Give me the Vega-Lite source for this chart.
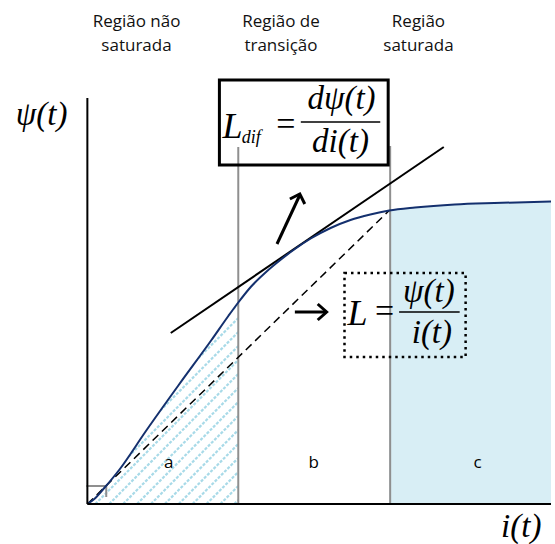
{
  "$schema": "https://vega.github.io/schema/vega-lite/v6.json",
  "width": 555,
  "height": 544,
  "autosize": {"type": "fit", "contains": "padding"},
  "padding": 0,
  "background": "white",
  "config": {"view": {"stroke": null}},
  "encoding": {
    "x": {"field": "i", "type": "quantitative", "scale": {"domain": [-1.76, 9.34], "nice": false, "zero": false}, "axis": null},
    "y": {"field": "psi", "type": "quantitative", "scale": {"domain": [-0.8, 10.08], "nice": false, "zero": false}, "axis": null}
  },
  "layer": [
    {
      "description": "saturated region c, shaded under the curve",
      "data": {"values": [
        {"i": 6.08, "psi": 5.87}, {"i": 6.6, "psi": 5.93}, {"i": 7.4, "psi": 5.99},
        {"i": 8.2, "psi": 6.02}, {"i": 9.34, "psi": 6.05}
      ]},
      "mark": {"type": "area", "interpolate": "monotone", "color": "#d8eef5"},
      "encoding": {"y2": {"datum": 0}}
    },
    {
      "description": "hatching of the unsaturated region a",
      "data": {"values": [
        {"i": 2.96, "psi": 0, "i2": 3.04, "psi2": 0.08},
        {"i": 2.68, "psi": 0, "i2": 3.04, "psi2": 0.36},
        {"i": 2.40, "psi": 0, "i2": 3.04, "psi2": 0.64},
        {"i": 2.12, "psi": 0, "i2": 3.04, "psi2": 0.92},
        {"i": 1.84, "psi": 0, "i2": 3.04, "psi2": 1.2},
        {"i": 1.56, "psi": 0, "i2": 3.04, "psi2": 1.48},
        {"i": 1.28, "psi": 0, "i2": 3.04, "psi2": 1.76},
        {"i": 1.00, "psi": 0, "i2": 3.04, "psi2": 2.04},
        {"i": 0.72, "psi": 0, "i2": 3.04, "psi2": 2.32},
        {"i": 0.44, "psi": 0, "i2": 3.04, "psi2": 2.6},
        {"i": 0.16, "psi": 0, "i2": 3.04, "psi2": 2.88},
        {"i": 0, "psi": 0.12, "i2": 3.04, "psi2": 3.16},
        {"i": 0, "psi": 0.40, "i2": 3.04, "psi2": 3.44},
        {"i": 0, "psi": 0.68, "i2": 3.04, "psi2": 3.72},
        {"i": 0, "psi": 0.96, "i2": 3.04, "psi2": 4.0},
        {"i": 0, "psi": 1.24, "i2": 2.86, "psi2": 4.1},
        {"i": 0, "psi": 1.52, "i2": 2.58, "psi2": 4.1},
        {"i": 0, "psi": 1.80, "i2": 2.30, "psi2": 4.1},
        {"i": 0, "psi": 2.08, "i2": 2.02, "psi2": 4.1},
        {"i": 0, "psi": 2.36, "i2": 1.74, "psi2": 4.1},
        {"i": 0, "psi": 2.64, "i2": 1.46, "psi2": 4.1},
        {"i": 0, "psi": 2.92, "i2": 1.18, "psi2": 4.1},
        {"i": 0, "psi": 3.20, "i2": 0.90, "psi2": 4.1},
        {"i": 0, "psi": 3.48, "i2": 0.62, "psi2": 4.1},
        {"i": 0, "psi": 3.76, "i2": 0.34, "psi2": 4.1}
      ]},
      "mark": {"type": "rule", "color": "#a8dae8", "strokeWidth": 2.2, "strokeDash": [3, 1.5]},
      "encoding": {"x2": {"field": "i2"}, "y2": {"field": "psi2"}}
    },
    {
      "description": "clears the hatching above the curve",
      "data": {"values": [
        {"i": 0, "psi": 0}, {"i": 0.14, "psi": 0.1}, {"i": 0.34, "psi": 0.32}, {"i": 0.64, "psi": 0.68},
        {"i": 1.18, "psi": 1.46}, {"i": 1.84, "psi": 2.38}, {"i": 2.5, "psi": 3.28}, {"i": 2.84, "psi": 3.76},
        {"i": 3.04, "psi": 4.03}, {"i": 3.3, "psi": 4.35}
      ]},
      "mark": {"type": "area", "interpolate": "monotone", "color": "white"},
      "encoding": {"y2": {"datum": 4.4}}
    },
    {
      "description": "region boundaries and the small step marker at the origin",
      "data": {"values": [
        {"i": 3.04, "psi": 0, "i2": 3.04, "psi2": 7.14},
        {"i": 6.1, "psi": 0, "i2": 6.1, "psi2": 7.16},
        {"i": -0.02, "psi": 0.36, "i2": 0.38, "psi2": 0.36},
        {"i": 0.38, "psi": 0.36, "i2": 0.38, "psi2": 0.14}
      ]},
      "mark": {"type": "rule", "color": "#8f8f8f", "strokeWidth": 2},
      "encoding": {"x2": {"field": "i2"}, "y2": {"field": "psi2"}}
    },
    {
      "description": "secant from the origin: L = psi / i",
      "data": {"values": [{"i": 0, "psi": 0, "i2": 6.08, "psi2": 5.87}]},
      "mark": {"type": "rule", "color": "black", "strokeWidth": 1.5, "strokeDash": [8, 5]},
      "encoding": {"x2": {"field": "i2"}, "y2": {"field": "psi2"}}
    },
    {
      "description": "tangent at the knee: L_dif",
      "data": {"values": [{"i": 1.68, "psi": 3.42, "i2": 7.18, "psi2": 7.14}]},
      "mark": {"type": "rule", "color": "black", "strokeWidth": 2},
      "encoding": {"x2": {"field": "i2"}, "y2": {"field": "psi2"}}
    },
    {
      "description": "magnetisation curve psi(i)",
      "data": {"values": [
        {"i": 0, "psi": 0}, {"i": 0.14, "psi": 0.1}, {"i": 0.34, "psi": 0.32}, {"i": 0.64, "psi": 0.68},
        {"i": 1.18, "psi": 1.46}, {"i": 1.84, "psi": 2.38}, {"i": 2.5, "psi": 3.28}, {"i": 2.84, "psi": 3.76},
        {"i": 3.04, "psi": 4.03}, {"i": 3.3, "psi": 4.35}, {"i": 3.6, "psi": 4.64}, {"i": 3.9, "psi": 4.89},
        {"i": 4.18, "psi": 5.1}, {"i": 4.5, "psi": 5.31}, {"i": 4.9, "psi": 5.52}, {"i": 5.3, "psi": 5.68},
        {"i": 5.7, "psi": 5.79}, {"i": 6.08, "psi": 5.87}, {"i": 6.6, "psi": 5.93}, {"i": 7.4, "psi": 5.99},
        {"i": 8.2, "psi": 6.02}, {"i": 9.34, "psi": 6.05}
      ]},
      "mark": {"type": "line", "interpolate": "monotone", "color": "#14306e", "strokeWidth": 2}
    },
    {
      "description": "axes",
      "data": {"values": [
        {"i": 0, "psi": 0, "i2": 0, "psi2": 8.12},
        {"i": 0, "psi": 0, "i2": 9.34, "psi2": 0}
      ]},
      "mark": {"type": "rule", "color": "black", "strokeWidth": 2},
      "encoding": {"x2": {"field": "i2"}, "y2": {"field": "psi2"}}
    },
    {
      "description": "arrow shafts",
      "data": {"values": [
        {"i": 3.82, "psi": 5.2, "i2": 4.28, "psi2": 6.18},
        {"i": 4.18, "psi": 3.84, "i2": 4.8, "psi2": 3.84}
      ]},
      "mark": {"type": "rule", "color": "black", "strokeWidth": 3},
      "encoding": {"x2": {"field": "i2"}, "y2": {"field": "psi2"}}
    },
    {
      "description": "arrow heads",
      "data": {"values": [
        {"arrow": "up", "k": 0, "i": 4.08, "psi": 6.1},
        {"arrow": "up", "k": 1, "i": 4.28, "psi": 6.2},
        {"arrow": "up", "k": 2, "i": 4.38, "psi": 6.0},
        {"arrow": "right", "k": 0, "i": 4.64, "psi": 4.0},
        {"arrow": "right", "k": 1, "i": 4.82, "psi": 3.84},
        {"arrow": "right", "k": 2, "i": 4.64, "psi": 3.68}
      ]},
      "mark": {"type": "line", "color": "black", "strokeWidth": 3, "strokeJoin": "miter"},
      "encoding": {"detail": {"field": "arrow"}, "order": {"field": "k"}}
    },
    {
      "description": "frame of the differential inductance formula",
      "data": {"values": [{"i": 2.66, "psi": 8.48, "i2": 6.06, "psi2": 6.78}]},
      "mark": {"type": "rect", "fillOpacity": 0, "stroke": "black", "strokeWidth": 3},
      "encoding": {"x2": {"field": "i2"}, "y2": {"field": "psi2"}}
    },
    {
      "description": "dotted frame of the inductance formula",
      "data": {"values": [{"i": 5.18, "psi": 4.62, "i2": 7.62, "psi2": 2.94}]},
      "mark": {"type": "rect", "fillOpacity": 0, "stroke": "black", "strokeWidth": 2.5, "strokeDash": [2.5, 4]},
      "encoding": {"x2": {"field": "i2"}, "y2": {"field": "psi2"}}
    },
    {
      "description": "fraction bars",
      "data": {"values": [
        {"i": 4.3, "psi": 7.64, "i2": 5.9, "psi2": 7.64},
        {"i": 6.28, "psi": 3.84, "i2": 7.5, "psi2": 3.84}
      ]},
      "mark": {"type": "rule", "color": "black", "strokeWidth": 1.5},
      "encoding": {"x2": {"field": "i2"}, "y2": {"field": "psi2"}}
    },
    {
      "description": "large formula glyphs, left aligned",
      "data": {"values": [
        {"t": "L", "i": 2.72, "psi": 7.32},
        {"t": "L", "i": 5.24, "psi": 3.58}
      ]},
      "mark": {"type": "text", "font": "Liberation Serif", "fontStyle": "italic", "fontSize": 36, "align": "left", "baseline": "alphabetic", "color": "black"},
      "encoding": {"text": {"field": "t"}}
    },
    {
      "description": "subscript",
      "data": {"values": [{"t": "dif", "i": 3.11, "psi": 7.22}]},
      "mark": {"type": "text", "font": "Liberation Serif", "fontStyle": "italic", "fontSize": 18, "align": "left", "baseline": "alphabetic", "color": "black"},
      "encoding": {"text": {"field": "t"}}
    },
    {
      "description": "equals signs",
      "data": {"values": [
        {"t": "=", "i": 4.0, "psi": 7.38},
        {"t": "=", "i": 5.99, "psi": 3.64}
      ]},
      "mark": {"type": "text", "font": "Liberation Serif", "fontSize": 34, "align": "center", "baseline": "alphabetic", "color": "black"},
      "encoding": {"text": {"field": "t"}}
    },
    {
      "description": "numerators, denominators and axis titles",
      "data": {"values": [
        {"t": "dψ(t)", "i": 5.12, "psi": 7.9},
        {"t": "di(t)", "i": 5.1, "psi": 7.04},
        {"t": "ψ(t)", "i": 6.88, "psi": 4.04},
        {"t": "i(t)", "i": 6.94, "psi": 3.22},
        {"t": "ψ(t)", "i": -0.92, "psi": 7.58},
        {"t": "i(t)", "i": 8.74, "psi": -0.66}
      ]},
      "mark": {"type": "text", "font": "Liberation Serif", "fontStyle": "italic", "fontSize": 33, "align": "center", "baseline": "alphabetic", "color": "black"},
      "encoding": {"text": {"field": "t"}}
    },
    {
      "description": "region headings",
      "data": {"values": [
        {"t": "Região não\nsaturada", "i": 0.99, "psi": 9.54},
        {"t": "Região de\ntransição", "i": 3.9, "psi": 9.54},
        {"t": "Região\nsaturada", "i": 6.67, "psi": 9.54}
      ]},
      "mark": {"type": "text", "font": "Open Sans", "fontSize": 17, "lineBreak": "\n", "lineHeight": 24, "align": "center", "baseline": "alphabetic", "color": "#111111"},
      "encoding": {"text": {"field": "t"}}
    },
    {
      "description": "region letters",
      "data": {"values": [
        {"t": "a", "i": 1.64, "psi": 0.72},
        {"t": "b", "i": 4.56, "psi": 0.72},
        {"t": "c", "i": 7.86, "psi": 0.72}
      ]},
      "mark": {"type": "text", "font": "Open Sans", "fontSize": 17, "align": "center", "baseline": "alphabetic", "color": "#000000"},
      "encoding": {"text": {"field": "t"}}
    }
  ]
}
